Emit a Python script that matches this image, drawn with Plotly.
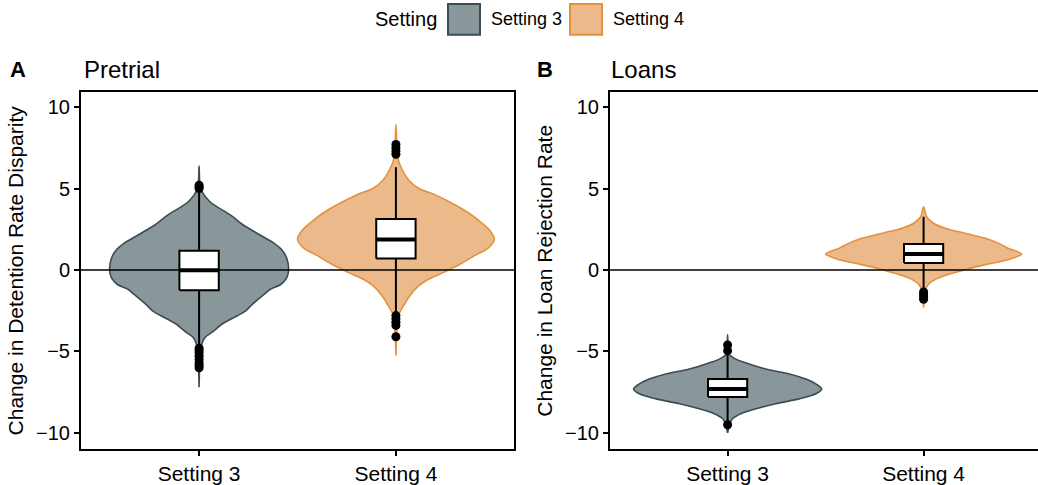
import plotly.graph_objects as go

# ---- data -------------------------------------------------------------
categories = ["Setting 3", "Setting 4"]

# Violin profiles: value levels and relative kernel density (widest = 1)
pre_s3_y = [6.38, 5.0, 4.19, 3.37, 2.76, 2.15, 1.65, 1.24, 0.73, 0.02, -0.49, -0.89,
            -1.2, -1.5, -2.11, -2.52, -2.93, -3.33, -3.74, -4.15, -4.56, -5.37, -7.2]
pre_s3_d = [0.0, 0.016, 0.11, 0.32, 0.45, 0.62, 0.76, 0.84, 0.89, 0.91, 0.89, 0.83,
            0.72, 0.66, 0.54, 0.47, 0.35, 0.23, 0.15, 0.06, 0.027, 0.01, 0.0]

pre_s4_y = [8.94, 6.95, 6.34, 5.53, 5.02, 4.61, 4.1, 3.5, 2.89, 2.38, 1.87, 1.36,
            0.85, 0.35, -0.16, -0.57, -0.98, -1.59, -2.2, -2.8, -3.62, -5.24]
pre_s4_d = [0.0, 0.017, 0.05, 0.13, 0.23, 0.40, 0.57, 0.74, 0.87, 0.96, 1.0, 0.94,
            0.79, 0.65, 0.48, 0.33, 0.23, 0.14, 0.076, 0.024, 0.01, 0.0]

loan_s3_y = [-3.98, -5.16, -5.47, -5.77, -6.08, -6.38, -6.69, -6.99, -7.3, -7.6,
             -7.91, -8.21, -8.52, -8.82, -9.13, -9.43, -10.0]
loan_s3_d = [0.0, 0.016, 0.085, 0.22, 0.39, 0.63, 0.80, 0.90, 0.96, 0.90,
             0.73, 0.49, 0.29, 0.136, 0.05, 0.023, 0.0]

loan_s4_y = [3.88, 3.27, 2.87, 2.56, 2.26, 1.95, 1.65, 1.34, 0.98, 0.63, 0.33,
             0.02, -0.28, -0.59, -0.89, -1.3, -2.32]
loan_s4_d = [0.0, 0.03, 0.10, 0.22, 0.42, 0.63, 0.76, 0.86, 1.0, 0.86, 0.63,
             0.42, 0.25, 0.116, 0.048, 0.014, 0.0]

# Box summaries: q1, median, q3, lower whisker, upper whisker
pre_s3_box = [-1.24, -0.02, 1.18, -4.6, 5.0]
pre_s4_box = [0.71, 1.87, 3.13, -2.6, 6.3]
loan_s3_box = [-7.8, -7.3, -6.69, -9.3, -5.1]
loan_s4_box = [0.43, 0.98, 1.59, -1.25, 3.27]

# Outlying observations
pre_s3_out = [5.0, 5.1, 5.2, -4.8, -4.95, -5.1, -5.3, -5.5, -5.7, -5.85, -6.0]
pre_s4_out = [7.1, 7.3, 7.5, 7.7, -2.8, -3.0, -3.2, -3.4, -4.1]
loan_s3_out = [-4.6, -4.95, -9.5]
loan_s4_out = [-1.35, -1.5, -1.65, -1.8]

# ---- styling ----------------------------------------------------------
FONT = "Liberation Sans, Arial, Helvetica, sans-serif"
FILL = {"Setting 3": "#89969A", "Setting 4": "#ECBA8A"}
EDGE = {"Setting 3": "#3B4D52", "Setting 4": "#E3913F"}
HALF = 0.5      # half-width (x units) of a density of 1
BOXW = 0.2

W, H = 1038, 485
def px(x):
    return x / W
def py(y):
    return 1 - y / H

fig = go.Figure()

panels = [
    ("x", "y", [(pre_s3_y, pre_s3_d, pre_s3_box, pre_s3_out),
                (pre_s4_y, pre_s4_d, pre_s4_box, pre_s4_out)]),
    ("x2", "y2", [(loan_s3_y, loan_s3_d, loan_s3_box, loan_s3_out),
                  (loan_s4_y, loan_s4_d, loan_s4_box, loan_s4_out)]),
]

def add(tr, xa, ya):
    tr.update(xaxis=xa, yaxis=ya, showlegend=False, hoverinfo="skip")
    fig.add_trace(tr)

for xa, ya, groups in panels:
    # violins (mirrored density outlines)
    for i, (vy, dens, box, outl) in enumerate(groups):
        cat = categories[i]
        c = i + 1
        xs = [c + d * HALF for d in dens] + [c - d * HALF for d in reversed(dens)]
        ys = list(vy) + list(reversed(vy))
        add(go.Scatter(x=xs, y=ys, mode="lines", fill="toself", fillcolor=FILL[cat],
                       line=dict(color=EDGE[cat], width=1.6, shape="spline",
                                 smoothing=0.8)), xa, ya)
    # boxplots on top of the violins
    for i, (vy, dens, box, outl) in enumerate(groups):
        c = i + 1
        q1, med, q3, lo, hi = box
        l, r = c - BOXW / 2, c + BOXW / 2
        add(go.Scatter(x=[c, c, None, c, c], y=[q3, hi, None, q1, lo], mode="lines",
                       line=dict(color="black", width=2)), xa, ya)
        add(go.Scatter(x=[l, r, r, l, l], y=[q1, q1, q3, q3, q1], mode="lines",
                       fill="toself", fillcolor="white",
                       line=dict(color="black", width=2)), xa, ya)
        add(go.Scatter(x=[l, r], y=[med, med], mode="lines",
                       line=dict(color="black", width=4)), xa, ya)
        add(go.Scatter(x=[c] * len(outl), y=outl, mode="markers",
                       marker=dict(color="black", size=9)), xa, ya)

# reference line at zero in both panels
for xa, ya in [("x", "y"), ("x2", "y2")]:
    fig.add_shape(type="line", xref=f"{xa} domain", yref=ya, x0=0, x1=1, y0=0, y1=0,
                  line=dict(color="black", width=1.4), layer="above")

axis_common = dict(showline=True, linecolor="black", linewidth=2, ticks="outside",
                   ticklen=5, tickwidth=1.5, tickcolor="black", showgrid=False,
                   zeroline=False, tickfont=dict(family=FONT, size=20, color="black"))
xtickfont = dict(family=FONT, size=21, color="black")

ydom = [py(452), py(93)]
yrange = [-11.0, 10.9]
fig.update_layout(
    width=W, height=H, margin=dict(l=0, r=0, t=0, b=0),
    paper_bgcolor="white", plot_bgcolor="white",
    font=dict(family=FONT, color="black"),
    xaxis=dict(domain=[px(81), px(514)], range=[0.4, 2.6], tickvals=[1, 2],
               ticktext=categories, mirror=True, anchor="y",
               **{**axis_common, "tickfont": xtickfont}),
    yaxis=dict(domain=ydom, range=yrange, tickvals=[-10, -5, 0, 5, 10],
               ticktext=["\u221210", "\u22125", "0", "5", "10"], mirror=True,
               anchor="x",
               title=dict(text="Change in Detention Rate Disparity",
                          font=dict(family=FONT, size=21, color="black"), standoff=7),
               **axis_common),
    xaxis2=dict(domain=[px(610), 1.0], range=[0.4, 0.4 + 428 / 196], tickvals=[1, 2],
                ticktext=categories, mirror=True, anchor="y2",
                **{**axis_common, "tickfont": xtickfont}),
    yaxis2=dict(domain=ydom, range=yrange, tickvals=[-10, -5, 0, 5, 10],
                ticktext=["\u221210", "\u22125", "0", "5", "10"], mirror=False,
                anchor="x2",
                title=dict(text="Change in Loan Rejection Rate",
                           font=dict(family=FONT, size=21, color="black"), standoff=7),
                **axis_common),
)

# panel tags and titles
ann = [
    ("<b>A</b>", 8, 22),
    ("Pretrial", 82, 24),
    ("<b>B</b>", 535, 22),
    ("Loans", 609, 24),
]
for text, x, size in ann:
    fig.add_annotation(xref="paper", yref="paper", xanchor="left", yanchor="middle",
                       showarrow=False, text=text, x=px(x), y=py(70),
                       font=dict(family=FONT, color="black", size=size))

# legend drawn as keys + labels across the top
fig.add_annotation(xref="paper", yref="paper", x=px(439), y=py(19), xanchor="right",
                   yanchor="middle", showarrow=False, text="Setting",
                   font=dict(family=FONT, size=20, color="black"))
for cat, x0 in [("Setting 3", 448), ("Setting 4", 570)]:
    fig.add_shape(type="rect", xref="paper", yref="paper", x0=px(x0), x1=px(x0 + 32),
                  y0=py(35), y1=py(4), fillcolor=FILL[cat],
                  line=dict(color=EDGE[cat], width=2))
    fig.add_annotation(xref="paper", yref="paper", x=px(x0 + 41), y=py(19),
                       xanchor="left", yanchor="middle", showarrow=False, text=cat,
                       font=dict(family=FONT, size=18, color="black"))

fig.write_html("out.html")
